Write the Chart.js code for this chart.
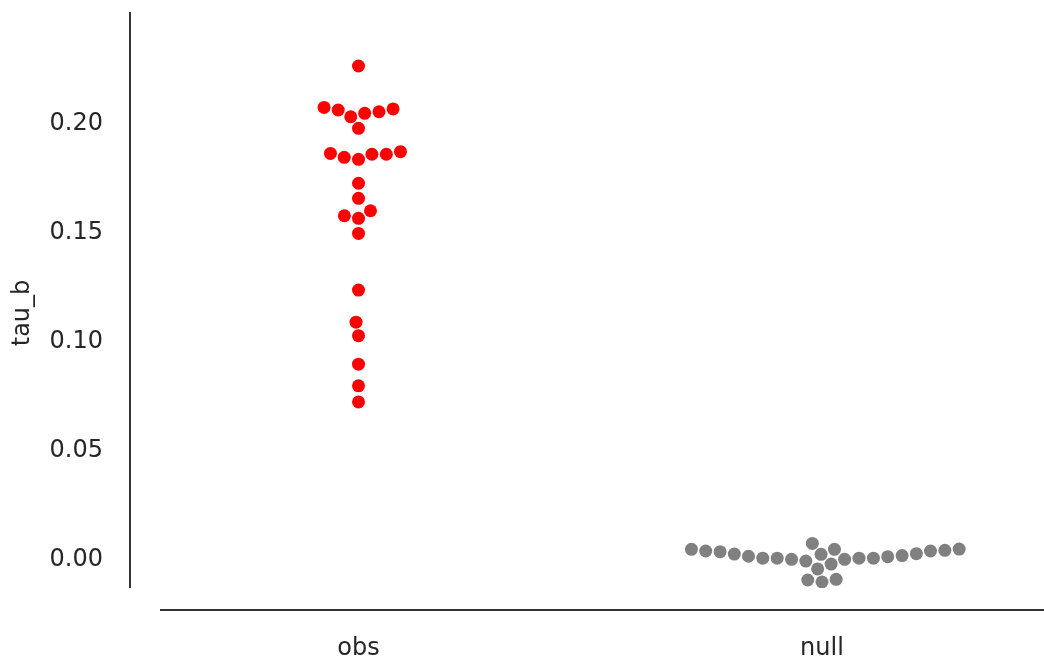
<!DOCTYPE html>
<html>
<head>
<meta charset="utf-8">
<script src="https://cdn.jsdelivr.net/npm/chart.js@4.4.0/dist/chart.umd.min.js"></script>
<style>
html, body { margin: 0; padding: 0; background: #fff; }
</style>
</head>
<body>
<canvas id="swarm" width="1044" height="660"></canvas>
<script>
var categories = ['obs', 'null'];
var obsValues = [0.2257, 0.2067, 0.2055, 0.2024, 0.2040, 0.2047, 0.2060, 0.1971,
    0.1856, 0.1838, 0.1829, 0.1852, 0.1852, 0.1864, 0.1719, 0.1650, 0.1570,
    0.1593, 0.1558, 0.1489, 0.1229, 0.1082, 0.1020, 0.0889, 0.0790, 0.0716];
var nullValues = [0.0040, 0.0032, 0.0029, 0.0017, 0.0008, -0.0001, -0.0001, -0.0001,
    -0.0014, 0.0067, 0.0018, 0.0040, -0.0050, -0.0028, -0.0006, -0.0006, -0.0001,
    0.0006, 0.0011, 0.0020, 0.0032, 0.0035, 0.0041, -0.0101, -0.0110, -0.0098];
var yTicks = [0.00, 0.05, 0.10, 0.15, 0.20];
var yTitle = 'tau_b';

var textColor = '#262626';
var font = { family: 'DejaVu Sans', size: 24 };
var dotRadius = 6.5;
var swarmRadius = 6.86;

// seaborn style beeswarm: returns pixel offsets in the order of the values
function beeswarm(values, yScale, r) {
    var pts = values.map(function (v, i) {
        return { i: i, y: -yScale.getPixelForValue(v), x: 0 };
    });
    pts.sort(function (a, b) { return a.y - b.y; });
    var swarm = [pts[0]];
    for (var k = 1; k < pts.length; k++) {
        var p = pts[k];
        var neighbors = [];
        for (var j = swarm.length - 1; j >= 0; j--) {
            if (p.y - swarm[j].y < 2 * r) neighbors.push(swarm[j]);
            else break;
        }
        var cands = [0];
        var leftFirst = true;
        neighbors.forEach(function (n) {
            var dy = p.y - n.y;
            var dx = Math.sqrt(Math.max(4 * r * r - dy * dy, 0)) * 1.05;
            if (leftFirst) cands.push(n.x - dx, n.x + dx);
            else cands.push(n.x + dx, n.x - dx);
            leftFirst = !leftFirst;
        });
        cands = cands.map(function (c, idx) { return { c: c, idx: idx }; })
            .sort(function (a, b) { return Math.abs(a.c) - Math.abs(b.c) || a.idx - b.idx; })
            .map(function (o) { return o.c; });
        var chosen = cands[0];
        for (var c = 0; c < cands.length; c++) {
            var ok = neighbors.every(function (n) {
                var dx = n.x - cands[c], dy = n.y - p.y;
                return dx * dx + dy * dy >= 4 * r * r - 1e-9;
            });
            if (ok) { chosen = cands[c]; break; }
        }
        p.x = chosen;
        swarm.push(p);
    }
    var offsets = [];
    swarm.forEach(function (p) { offsets[p.i] = p.x; });
    return offsets;
}

// offset spines like sns.despine(offset=...) plus the y label
var axisLines = {
    id: 'axisLines',
    beforeDatasetsDraw: function (chart) {
        var a = chart.chartArea, ctx = chart.ctx;
        ctx.save();
        ctx.strokeStyle = '#333333';
        ctx.lineWidth = 2;
        ctx.beginPath();
        ctx.moveTo(a.left - 30, a.top);
        ctx.lineTo(a.left - 30, a.bottom);
        ctx.moveTo(a.left, a.bottom + 22);
        ctx.lineTo(a.right, a.bottom + 22);
        ctx.stroke();

        ctx.translate(23, (a.top + a.bottom) / 2 + 13);
        ctx.rotate(-Math.PI / 2);
        ctx.fillStyle = textColor;
        ctx.font = font.size + 'px "' + font.family + '"';
        ctx.textAlign = 'center';
        ctx.textBaseline = 'middle';
        ctx.fillText(yTitle, 0, 0);
        ctx.restore();
    }
};

function pointColors(ci) {
    return ['#ff0000', '#808080'][ci];
}

var seriesValues = [obsValues, nullValues];

var ctx = document.getElementById('swarm').getContext('2d');
var chart = new Chart(ctx, {
    type: 'scatter',
    data: {
        datasets: seriesValues.map(function (vals, ci) {
            return {
                label: categories[ci],
                data: vals.map(function (v) { return { x: ci, y: v }; }),
                backgroundColor: pointColors(ci),
                borderWidth: 0,
                pointRadius: dotRadius,
                pointHoverRadius: dotRadius
            };
        })
    },
    options: {
        responsive: false,
        animation: false,
        layout: { autoPadding: false, padding: { top: 12, right: 0, left: 0, bottom: 0 } },
        plugins: { legend: { display: false }, tooltip: { enabled: false } },
        scales: {
            x: {
                type: 'linear',
                min: -0.4283,
                max: 1.479,
                grid: { display: false, drawTicks: false },
                border: { display: false },
                afterBuildTicks: function (scale) {
                    scale.ticks = categories.map(function (c, i) { return { value: i }; });
                },
                afterFit: function (scale) {
                    scale.height = 72;
                    scale.paddingLeft = 0;
                    scale.paddingRight = 0;
                },
                ticks: {
                    padding: 46,
                    color: textColor,
                    font: font,
                    callback: function (v) { return categories[v]; }
                }
            },
            y: {
                min: -0.01376,
                max: 0.25046,
                grid: { display: false, drawTicks: false },
                border: { display: false },
                afterBuildTicks: function (scale) {
                    scale.ticks = yTicks.map(function (v) { return { value: v }; });
                },
                afterFit: function (scale) {
                    scale.width = 160;
                    scale.paddingTop = 0;
                    scale.paddingBottom = 0;
                },
                ticks: {
                    padding: 57,
                    labelOffset: 2,
                    color: textColor,
                    font: font,
                    callback: function (v) { return v.toFixed(2); }
                }
            }
        }
    },
    plugins: [axisLines]
});

// place the points as a swarm around each category
var unit = chart.scales.x.getPixelForValue(1) - chart.scales.x.getPixelForValue(0);
seriesValues.forEach(function (vals, ci) {
    var offs = beeswarm(vals, chart.scales.y, swarmRadius);
    chart.data.datasets[ci].data = vals.map(function (v, k) {
        return { x: ci + offs[k] / unit, y: v };
    });
});
chart.update('none');
</script>
</body>
</html>
